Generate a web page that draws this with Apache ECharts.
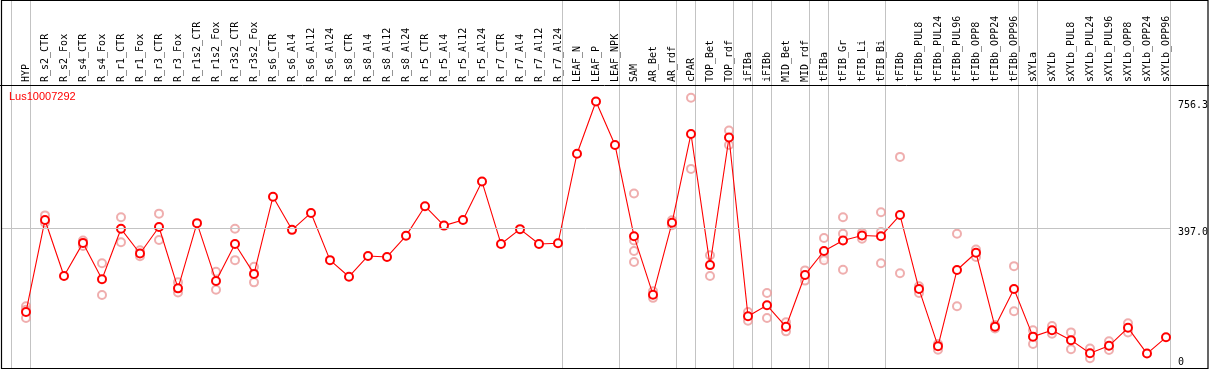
<!DOCTYPE html>
<html>
<head>
<meta charset="utf-8">
<script src="https://cdn.jsdelivr.net/npm/echarts@6/dist/echarts.min.js"></script>
<style>
  html, body { margin: 0; padding: 0; background: #fff; }
  #chart { width: 1209px; height: 370px; }
</style>
</head>
<body>
<div id="chart"></div>
<script>
const categories = ['HYP','R_s2_CTR','R_s2_Fox','R_s4_CTR','R_s4_Fox','R_r1_CTR','R_r1_Fox','R_r3_CTR','R_r3_Fox',
  'R_r1s2_CTR','R_r1s2_Fox','R_r3s2_CTR','R_r3s2_Fox','R_s6_CTR','R_s6_Al4','R_s6_Al12','R_s6_Al24',
  'R_s8_CTR','R_s8_Al4','R_s8_Al12','R_s8_Al24','R_r5_CTR','R_r5_Al4','R_r5_Al12','R_r5_Al24',
  'R_r7_CTR','R_r7_Al4','R_r7_Al12','R_r7_Al24','LEAF_N','LEAF_P','LEAF_NPK','SAM','AR_Bet','AR_rdf',
  'cPAR','TOP_Bet','TOP_rdf','iFIBa','iFIBb','MID_Bet','MID_rdf','tFIBa','tFIB_Gr','tFIB_Li','tFIB_Bi',
  'tFIBb','tFIBb_PUL8','tFIBb_PUL24','tFIBb_PUL96','tFIBb_OPP8','tFIBb_OPP24','tFIBb_OPP96',
  'sXYLa','sXYLb','sXYLb_PUL8','sXYLb_PUL24','sXYLb_PUL96','sXYLb_OPP8','sXYLb_OPP24','sXYLb_OPP96'];

const meanValues = [159,420,261,355,252,395,325,400,226,411,247,352,267,486,392,440,306,259,318,315,
  375,459,404,420,529,352,394,352,354,608,756.3,633,374,208,412,664,292,654,147,178,117,264,332,362,
  376,374,434,224,62,278,327,117,224,89,107,79,42,63,114,41,87];

const replicateValues = [[175,142,165],[433,412],[],[362,346],[297,207],[428,357],[334,317],[438,363],
  [243,214],[],[273,222],[395,306],[287,243],[],[],[],[],[],[],[],[],[],[],[],[],[],[],[],[],[],[],[],
  [495,362,332,301],[218,199],[419,405],[767,565],[320,261],[674,633],[159,134],[213,142],[130,104],
  [277,248],[369,313,306],[428,381,279],[384,367],[442,386,297],[599,269],[232,213],[52,68],[381,175],
  [336,315],[122,112],[289,161],[107,68],[119,97],[101,53],[55,28],[76,51],[127,101],[],[]];

const geneName = 'Lus10007292';
const yTickValues = [0, 397.0, 756.3];
const yTickLabels = ['0', '397.0', '756.3'];
const groupBoundaries = [0,1,29,32,35,36,38,39,40,42,43,46,53,54,61];
const referenceLineValue = 397.0;

const chart = echarts.init(document.getElementById('chart'), null, { renderer: 'canvas' });

const meanData = meanValues.map((v, i) => [i, v]);
const repData = [];
replicateValues.forEach((arr, i) => arr.forEach(v => repData.push([i, v])));

// x: index 0 at pixel 26, 19 px per category; grid from x=1 to x=1170
const xMin = -25 / 19;
const xMax = 1144 / 19;
const boundaryOffset = -15 / 19;

chart.setOption({
  animation: false,
  backgroundColor: '#fff',
  title: {
    text: geneName, left: 9, top: 91, padding: 0,
    textStyle: { color: '#ff0000', fontSize: 11, fontWeight: 'normal', fontFamily: 'Liberation Sans' }
  },
  grid: [
    { left: 1, right: 39, top: 85, bottom: 2, show: false },
    { left: 16.5, right: 33.5, top: 85, height: 1, show: false }
  ],
  xAxis: [
    { type: 'value', gridIndex: 0, min: xMin, max: xMax, show: false },
    { type: 'category', gridIndex: 1, position: 'top', data: categories, boundaryGap: true,
      axisLine: { show: false }, axisTick: { show: false }, splitLine: { show: false },
      axisLabel: { rotate: 90, interval: 0, margin: 3, fontFamily: 'DejaVu Sans Mono', fontSize: 10, color: '#000' } }
  ],
  yAxis: [
    { type: 'value', gridIndex: 0, min: 0, max: 803, show: false },
    { type: 'value', gridIndex: 1, show: false }
  ],
  series: [
    {
      type: 'scatter', xAxisIndex: 0, yAxisIndex: 0, data: repData,
      symbol: 'emptyCircle', symbolSize: 8,
      itemStyle: { color: '#eb9a9a', borderWidth: 1.3 },
      z: 2,
      markLine: {
        silent: true, symbol: 'none', label: { show: false },
        lineStyle: { color: '#c3c3c3', width: 1, type: 'solid' },
        data: [{ yAxis: referenceLineValue }]
      }
    },
    {
      type: 'line', xAxisIndex: 0, yAxisIndex: 0, data: meanData,
      symbol: 'emptyCircle', symbolSize: 8, showAllSymbol: true,
      lineStyle: { color: '#ff0000', width: 1.1 },
      itemStyle: { color: '#ff0000', borderWidth: 1.5 },
      z: 3
    }
  ]
});

const graphics = [];
groupBoundaries.forEach(k => {
  const x = Math.round(chart.convertToPixel({ xAxisIndex: 0 }, k + boundaryOffset)) + 0.5;
  graphics.push({ type: 'line', silent: true, z: 1,
    shape: { x1: x, y1: 0, x2: x, y2: 369 }, style: { stroke: '#c3c3c3', lineWidth: 1 } });
});
graphics.push({ type: 'line', silent: true, z: 10,
  shape: { x1: 0, y1: 85.5, x2: 1209, y2: 85.5 }, style: { stroke: '#000', lineWidth: 1 } });
graphics.push({ type: 'rect', silent: true, z: 10,
  shape: { x: 1.5, y: 0.5, width: 1206.5, height: 368 }, style: { fill: null, stroke: '#000', lineWidth: 1.2 } });
yTickValues.forEach((v, j) => {
  const y = chart.convertToPixel({ yAxisIndex: 0 }, v);
  const isBottom = v === 0;
  graphics.push({ type: 'text', silent: true, z: 10, x: 1178, y: y - 1,
    style: { text: yTickLabels[j], fill: '#000', font: '10px "DejaVu Sans Mono"',
      textAlign: 'left', textVerticalAlign: isBottom ? 'bottom' : 'top' } });
});
chart.setOption({ graphic: graphics });
</script>
</body>
</html>
